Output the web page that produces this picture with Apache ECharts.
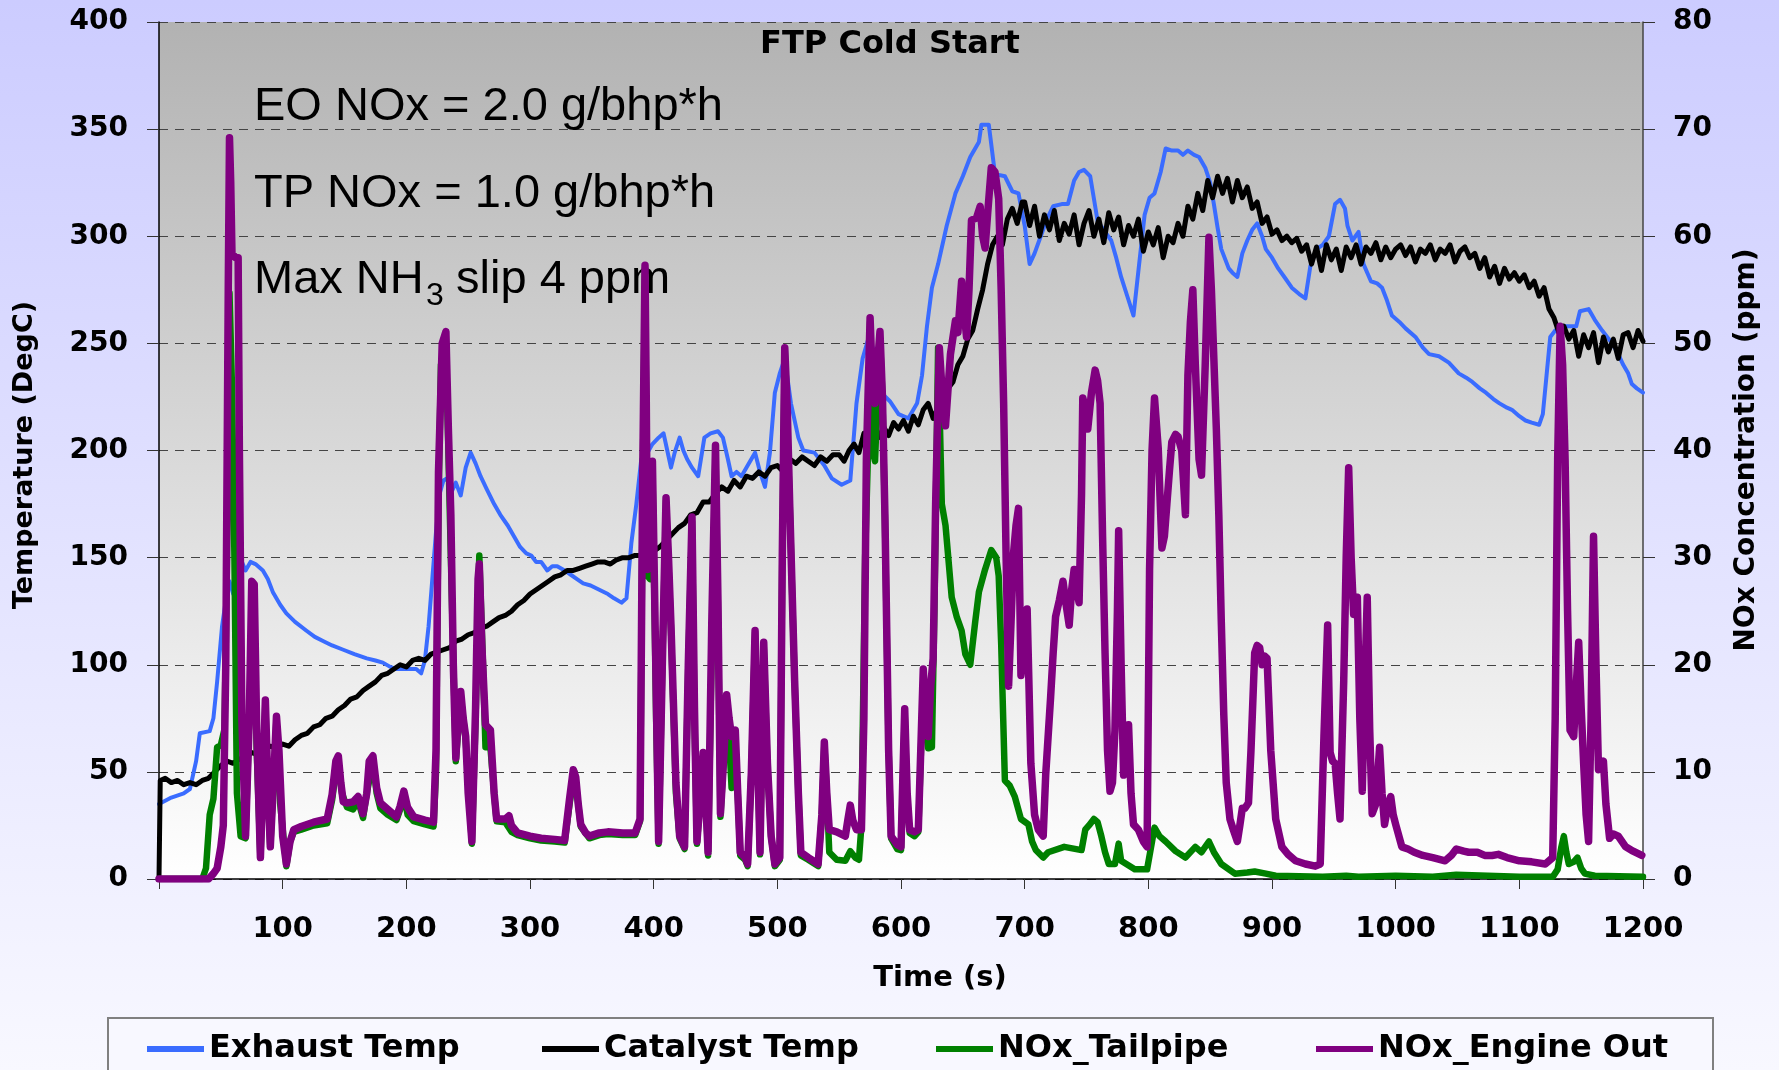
<!DOCTYPE html>
<html>
<head>
<meta charset="utf-8">
<script src="https://cdn.jsdelivr.net/npm/echarts@6/dist/echarts.min.js"></script>
<style>
html, body { margin: 0; padding: 0; }
#ftpChart { width: 1779px; height: 1070px; }
</style>
</head>
<body>
<div id="ftpChart"></div>
<script>
// [time s, value]
var exhaustTemp = [
    [0,35],[10,38],[20,40],[25,42],[30,55],[33,68],[41,69],[44,75],[47,92],[51,118],[54,130],[57,139],[60,133],
    [64,155],[67,148],[70,144],[74,148],[78,147],[84,144],[88,140],[92,134],[98,128],[103,124],[110,120],[119,116],
    [126,113],[133,111],[140,109],[149,107],[158,105],[168,103],[175,102],[181,101],[187,99],[192,98],[200,98],
    [208,98],[212,96],[215,102],[218,118],[221,140],[224,162],[227,180],[230,186],[233,187],[236,180],[240,185],
    [244,179],[248,192],[252,199],[256,194],[260,188],[265,182],[271,175],[276,170],[282,165],[287,160],[292,155],
    [297,152],[301,151],[305,148],[309,148],[314,144],[318,146],[322,146],[328,144],[333,142],[338,140],[343,138],
    [349,137],[356,135],[363,133],[368,131],[374,129],[378,131],[382,157],[386,175],[390,196],[395,199],[399,203],
    [404,206],[408,208],[411,200],[414,192],[417,199],[421,206],[424,200],[427,196],[431,192],[436,188],[441,206],
    [446,208],[452,209],[456,206],[460,196],[463,188],[467,190],[471,188],[476,193],[482,199],[486,190],[490,183],
    [494,199],[498,227],[502,236],[506,243],[511,222],[517,206],[521,200],[530,199],[538,193],[544,187],[552,184],
    [559,186],[564,222],[569,243],[574,253],[579,245],[584,227],[591,223],[598,217],[606,215],[613,222],[617,235],
    [621,258],[625,276],[630,287],[637,305],[644,320],[650,328],[656,337],[663,344],[665,352],[671,352],[676,329],
    [684,328],[690,321],[695,320],[700,305],[704,287],[708,292],[713,300],[718,308],[723,314],[730,315],[735,315],
    [740,326],[744,330],[748,331],[753,328],[759,307],[765,302],[770,298],[774,290],[778,281],[783,272],[788,263],
    [792,284],[797,310],[801,318],[805,320],[810,330],[814,341],[819,340],[824,340],[828,338],[832,340],[837,338],
    [841,337],[846,332],[850,325],[853,315],[856,304],[859,294],[865,285],[868,283],[872,281],[876,292],[880,298],
    [884,303],[888,306],[892,300],[895,294],[900,290],[905,285],[910,281],[916,276],[922,273],[927,271],[931,286],
    [936,294],[941,296],[946,300],[951,315],[955,317],[959,313],[961,305],[965,298],[970,302],[974,287],[980,279],
    [985,278],[989,276],[993,270],[997,263],[1003,260],[1008,257],[1016,253],[1022,248],[1027,245],[1035,244],
    [1043,241],[1051,236],[1057,234],[1062,232],[1068,229],[1073,227],[1079,224],[1084,222],[1090,220],[1094,219],
    [1100,216],[1105,214],[1110,213],[1116,212],[1119,217],[1122,235],[1125,253],[1129,256],[1135,258],[1146,258],
    [1149,265],[1156,266],[1161,261],[1167,256],[1175,250],[1180,245],[1184,240],[1188,236],[1191,231],[1195,229],
    [1200,227]
];

var catalystTemp = [
    [0,0],[1,46],[5,47],[10,45],[15,46],[20,44],[25,45],[30,44],[35,46],[40,47],[45,50],[50,53],[55,55],[60,54],
    [65,56],[70,57],[75,59],[80,58],[85,61],[90,62],[95,61],[100,63],[105,62],[110,65],[115,67],[120,68],[125,71],
    [130,72],[135,75],[140,76],[145,79],[150,81],[155,84],[160,85],[165,88],[170,90],[175,92],[180,95],[185,96],
    [190,98],[195,100],[200,99],[205,102],[210,103],[215,102],[220,105],[225,106],[230,107],[235,108],[240,111],
    [245,112],[250,114],[255,115],[260,117],[265,118],[270,120],[275,122],[280,123],[285,125],[290,128],[295,130],
    [300,133],[305,135],[310,137],[315,139],[320,141],[325,142],[330,144],[335,144],[340,145],[345,146],[350,147],
    [355,148],[360,148],[365,147],[370,149],[375,150],[380,150],[385,151],[390,151],[395,152],[400,153],[405,155],
    [410,158],[415,161],[420,164],[425,166],[430,170],[435,171],[440,176],[445,176],[450,180],[455,183],[460,181],
    [465,186],[470,183],[475,188],[480,187],[485,190],[490,188],[495,192],[500,193],[505,190],[510,196],[515,194],
    [520,197],[525,195],[530,193],[535,197],[540,195],[545,198],[550,198],[554,195],[558,200],[562,203],[566,199],
    [570,208],[574,205],[578,210],[582,206],[586,211],[590,207],[594,213],[598,210],[602,214],[606,209],[610,216],
    [614,212],[618,219],[622,222],[626,215],[630,220],[634,226],[638,229],[642,232],[646,240],[650,244],[654,252],
    [658,256],[662,266],[666,275],[670,287],[674,296],[678,300],[682,296],[686,308],[690,313],[694,306],[698,316],
    [700,316],[704,305],[708,314],[712,300],[716,310],[720,303],[724,312],[728,298],[732,306],[736,301],[740,310],
    [744,296],[748,306],[752,312],[756,300],[760,308],[764,297],[768,311],[772,303],[776,309],[780,296],[784,305],
    [788,300],[792,308],[796,293],[800,302],[804,296],[808,304],[812,290],[816,300],[820,297],[824,306],[828,300],
    [832,314],[836,308],[840,320],[844,312],[848,326],[852,318],[856,328],[860,320],[864,327],[868,316],[872,326],
    [876,318],[880,323],[884,313],[888,316],[892,306],[896,309],[900,301],[904,303],[908,298],[912,300],[916,297],
    [920,299],[924,293],[928,296],[932,287],[936,295],[940,284],[944,296],[948,289],[952,294],[956,284],[960,295],
    [964,290],[968,296],[972,287],[976,295],[980,292],[984,297],[988,289],[992,295],[996,290],[1000,294],[1004,296],
    [1008,291],[1012,295],[1016,288],[1020,294],[1024,292],[1028,296],[1032,289],[1036,294],[1040,292],[1044,296],
    [1048,288],[1052,293],[1056,295],[1060,290],[1064,292],[1068,285],[1072,290],[1076,281],[1080,286],[1084,278],
    [1088,285],[1092,280],[1096,283],[1100,279],[1104,282],[1108,276],[1112,279],[1116,272],[1120,276],[1124,266],
    [1128,262],[1132,255],[1136,258],[1140,252],[1144,256],[1148,244],[1152,254],[1156,248],[1160,255],[1164,241],
    [1168,253],[1172,246],[1176,252],[1180,243],[1184,254],[1188,255],[1192,248],[1196,256],[1200,251]
];

var noxTailpipe = [
    [0,0],[35,0],[38,1],[41,6],[44,7.5],[47,12.3],[50,12.5],[53,14],[55,30],[57,54.7],[59,46],[61,30],[63,8],[66,4],
    [70,3.8],[73,15],[76,27.5],[79,12],[82,2],[84,8],[86,16.5],[88,8],[90,3],[93,10],[95,15],[98,7],[103,1.2],
    [106,3.5],[109,4.4],[115,4.6],[125,5],[136,5.2],[140,7.4],[143,10],[145,11],[148,8],[152,6.7],[157,6.5],
    [161,7.3],[165,5.7],[168,8],[173,11],[176,8],[179,6.6],[185,6],[192,5.5],[195,6.5],[198,7.8],[201,6],[206,5.4],
    [215,5.1],[222,4.9],[224,10],[226,35],[228,48],[232,50],[234,40],[236,30],[240,11],[244,17],[248,13],[253,3.3],
    [256,15],[259,30.2],[262,20],[264,12.3],[268,12.3],[271,8],[273,5.4],[280,5.3],[285,4.4],[290,4.1],[300,3.8],
    [309,3.6],[320,3.5],[328,3.4],[332,7],[336,10],[339,7],[341,4.9],[348,3.8],[356,4.1],[363,4.2],[375,4.1],
    [385,4.1],[389,5.4],[391,35],[393,57],[395,28.3],[397,28],[399,38.5],[402,15],[404,3.3],[407,20],[410,35.3],
    [414,23.4],[418,8],[421,3.8],[425,2.8],[428,20],[431,33.4],[433,15],[435,3.3],[438,8],[440,11.5],[443,5],
    [444,2.2],[447,22],[450,40],[452,25],[454,5.8],[457,12],[459,17],[461,13],[463,8.5],[466,12.5],[468,8],[470,2.2],
    [474,1.8],[476,1.2],[479,10],[482,23],[484,12],[486,2.3],[489,21.8],[492,10.5],[495,4],[498,1.2],[502,1.8],
    [504,30],[506,49.5],[510,35],[514,18.3],[517,8],[519,2.2],[525,1.8],[533,1.2],[536,6],[538,12.6],[540,8],
    [542,2.5],[548,1.8],[555,1.7],[559,2.6],[563,2],[566,1.8],[568,5],[571,30],[573,38.5],[575,52],[577,40],[579,39],
    [581,45],[583,50.5],[585,45],[587,33.5],[590,12],[592,3.8],[597,2.8],[600,2.7],[603,15.4],[605,7],[607,4.3],
    [611,4],[614,4.4],[618,18.5],[622,12.2],[625,12.3],[627,25],[630,49.6],[633,35],[636,33],[641,26.3],[645,24.5],
    [649,23.2],[652,21],[656,20],[660,24],[663,26.8],[668,28.9],[673,30.7],[677,30],[679,28.3],[681,22],[684,9.2],
    [688,8.7],[692,7.7],[697,5.6],[703,5.1],[706,3.5],[709,2.7],[715,2],[719,2.5],[732,3],[746,2.7],[749,4.6],
    [752,5],[756,5.6],[759,5.3],[762,4],[765,2.5],[768,1.4],[773,1.4],[776,3.3],[778,1.7],[789,0.9],[799,0.9],
    [803,3.5],[805,4.8],[809,4],[814,3.5],[822,2.6],[830,2],[838,3],[843,2.5],[849,3.5],[853,2.5],[859,1.4],
    [870,0.5],[880,0.6],[886,0.7],[895,0.5],[903,0.3],[941,0.2],[960,0.3],[970,0.2],[1000,0.3],[1030,0.2],
    [1049,0.4],[1100,0.2],[1127,0.2],[1131,0.9],[1134,3],[1136,4],[1138,2.5],[1140,1.4],[1144,1.6],[1147,2],
    [1150,1],[1153,0.5],[1161,0.3],[1200,0.2]
];

var noxEngineOut = [
    [0,0],[40,0],[44,0.5],[47,1],[50,3],[52,5],[54,20],[56,55],[57,69.2],[58,65],[59,58.4],[62,58],[64,58],[65,40],
    [67,15],[70,4],[73,15],[75,27.8],[77,27.5],[79,14],[82,2],[84,9],[86,16.7],[88,9],[90,3],[93,10],[95,15.2],
    [97,12],[100,4],[103,1.4],[106,3.5],[109,4.6],[115,4.9],[125,5.3],[136,5.6],[140,7.9],[143,11],[145,11.5],
    [147,9],[149,7.2],[152,7.1],[157,7.2],[161,7.7],[165,6.1],[168,8],[170,11],[173,11.5],[176,8.5],[179,7.1],
    [185,6.5],[192,5.8],[195,6.8],[198,8.2],[201,6.7],[206,5.8],[215,5.5],[222,5.3],[224,12],[226,38],[229,50],
    [232,51.1],[234,42],[236,34],[238,20],[240,11.3],[242,15],[244,17.5],[246,15],[248,13.3],[250,8],[253,3.5],
    [256,16],[258,28],[259,29.4],[261,22],[264,14.4],[268,13.9],[271,8],[273,5.6],[280,5.6],[283,5.9],[285,5],
    [290,4.3],[300,4],[309,3.8],[320,3.7],[328,3.6],[332,7.5],[335,10.2],[337,9.5],[339,7],[341,5.1],[345,4.3],
    [348,4],[356,4.3],[363,4.4],[375,4.3],[385,4.3],[389,5.6],[391,36],[393,57.3],[394,45],[395,28.9],[397,30],
    [399,39],[401,25],[404,3.5],[407,20],[410,35.6],[412,30],[414,23.7],[418,9],[421,4],[425,3],[428,20],[431,33.8],
    [433,16],[435,3.5],[438,8],[440,11.8],[443,5],[444,2.5],[447,24],[450,40.5],[452,26],[454,6.1],[457,12],
    [459,17.2],[461,15],[463,13.3],[466,13.9],[468,8],[470,2.5],[474,2],[476,1.4],[479,10],[482,23.2],[484,12],
    [486,2.5],[489,22.1],[492,10.8],[495,4],[498,1.4],[502,2],[504,30],[506,49.6],[508,44],[510,35],[514,18.5],
    [517,8],[519,2.5],[525,2],[533,1.4],[536,6],[538,12.8],[540,8],[542,4.6],[548,4.4],[555,4],[557,5.5],[559,6.9],
    [561,5.5],[564,4.6],[568,4.6],[570,15],[572,39.2],[575,52.4],[577,46],[579,44.4],[581,48],[583,51.1],[585,45],
    [587,34],[590,12],[592,4],[597,3.2],[600,3],[603,15.9],[605,8],[607,4.6],[611,4.4],[614,4.6],[618,19.6],[620,15],
    [622,13.3],[624,18],[626,20.6],[628,35],[631,49.6],[633,46],[636,42.3],[640,49],[644,52.1],[646,51],[649,55.8],
    [651,53],[653,50.6],[655,55],[657,61.5],[661,61.7],[664,62.8],[666,60],[668,58.9],[670,62],[673,66.4],[676,66],
    [679,63.5],[681,55],[683,44.4],[685,30],[687,18],[689,24],[691,30.4],[693,33],[695,34.6],[697,19],[700,22],
    [702,25.2],[705,10.8],[708,6],[711,4.6],[715,4],[717,9.7],[721,17],[723,21],[725,24.5],[728,26],[731,27.8],
    [733,26],[736,23.7],[738,27],[740,28.9],[742,27],[744,25.8],[746,36],[747,44.9],[749,44],[751,42],[754,45.4],
    [757,47.5],[759,46.5],[761,44.4],[763,32],[765,21.1],[767,12],[769,8.2],[771,9],[773,13.9],[775,25],[776,32.5],
    [778,20],[780,9.7],[782,12],[784,14.4],[786,8],[788,5.1],[792,4.6],[796,3.5],[799,3],[801,28.9],[803,40],
    [805,44.9],[808,40.2],[811,30.9],[813,32],[815,35],[817,38],[819,40.8],[822,41.5],[824,41.3],[827,40],[830,34],
    [832,47],[834,52],[836,55],[838,48],[841,39.2],[843,37.7],[846,48],[849,59.9],[851,55],[853,48.5],[855,42],
    [857,34],[859,24],[861,15.4],[863,9],[866,5.6],[869,4.5],[872,3.5],[874,5],[876,6.6],[878,6.6],[881,7.1],
    [883,12],[886,21.1],[888,21.8],[890,21.6],[892,20],[894,20.8],[896,20.6],[899,12],[903,5.6],[908,3],[913,2.3],
    [919,1.7],[927,1.4],[935,1.2],[939,1.4],[942,13.3],[945,23.7],[947,11.8],[949,11],[951,10.8],[953,8],[955,5.6],
    [958,18.5],[960,30],[962,38.4],[964,30],[966,24.7],[969,26.3],[971,15],[973,8.2],[975,18],[977,26.3],[979,14],
    [981,6.1],[984,7],[987,12.3],[989,8],[991,5.1],[994,7],[996,7.7],[998,6],[1000,5.1],[1005,3],[1010,2.8],
    [1015,2.5],[1022,2.2],[1030,2],[1040,1.7],[1045,2.2],[1049,2.8],[1055,2.6],[1059,2.5],[1066,2.5],[1072,2.2],
    [1078,2.2],[1083,2.3],[1090,2],[1100,1.7],[1110,1.6],[1121,1.4],[1127,2],[1129,15],[1131,39.2],[1133,51.6],
    [1135,48],[1137,39.2],[1139,25],[1141,13.9],[1144,13.3],[1146,18],[1148,22.1],[1150,16],[1152,10.8],[1154,6],
    [1156,3.5],[1158,15],[1160,32],[1162,20],[1164,10.2],[1166,10.5],[1168,11],[1170,7],[1173,3.8],[1176,4.2],
    [1180,4],[1186,3],[1192,2.6],[1199,2.2]
];

var seriesNames = ['Exhaust Temp', 'Catalyst Temp', 'NOx_Tailpipe', 'NOx_Engine Out'];

var boldFont = 'DejaVu Sans';

var box = echarts.init(document.getElementById('ftpChart'));

function legendItem(name, left) {
    return {
        data: [name],
        left: left,
        top: 1033,
        padding: 0,
        icon: 'rect',
        itemWidth: 57,
        itemHeight: 6,
        textStyle: { fontFamily: boldFont, fontWeight: 'bold', fontSize: 32, color: '#000' }
    };
}

option = {
    animation: false,
    backgroundColor: new echarts.graphic.LinearGradient(0, 0, 0, 1, [
        { offset: 0, color: '#ccccff' },
        { offset: 1, color: '#f8f8ff' }
    ]),
    grid: {
        left: 159,
        right: 136,
        top: 22,
        bottom: 191,
        show: true,
        borderWidth: 0,
        outerBoundsMode: 'none',
        backgroundColor: new echarts.graphic.LinearGradient(0, 0, 0, 1, [
            { offset: 0, color: '#b2b2b2' },
            { offset: 1, color: '#ffffff' }
        ])
    },
    legend: [
        legendItem(seriesNames[0], 147),
        legendItem(seriesNames[1], 542),
        legendItem(seriesNames[2], 936),
        legendItem(seriesNames[3], 1316)
    ],
    graphic: [
        {
            type: 'rect', z: 0,
            shape: { x: 108, y: 1018, width: 1605, height: 70 },
            style: { fill: '#f8f8ff', stroke: '#808080', lineWidth: 2 }
        },
        {
            type: 'text', z: 1, x: 890, y: 45,
            style: { text: 'FTP Cold Start', fontFamily: boldFont, fontWeight: 'bold', fontSize: 32,
                     fill: '#000', align: 'center', verticalAlign: 'middle' }
        },
        {
            type: 'text', z: 1, x: 254, y: 107,
            style: { text: 'EO NOx = 2.0 g/bhp*h', fontFamily: 'Liberation Sans', fontSize: 47,
                     fill: '#000', verticalAlign: 'middle' }
        },
        {
            type: 'text', z: 1, x: 254, y: 194,
            style: { text: 'TP NOx = 1.0 g/bhp*h', fontFamily: 'Liberation Sans', fontSize: 47,
                     fill: '#000', verticalAlign: 'middle' }
        },
        {
            type: 'text', z: 1, x: 254, y: 280,
            style: { text: 'Max NH', fontFamily: 'Liberation Sans', fontSize: 47,
                     fill: '#000', verticalAlign: 'middle' }
        },
        {
            type: 'text', z: 1, x: 426, y: 296,
            style: { text: '3', fontFamily: 'Liberation Sans', fontSize: 32,
                     fill: '#000', verticalAlign: 'middle' }
        },
        {
            type: 'text', z: 1, x: 443, y: 280,
            style: { text: ' slip 4 ppm', fontFamily: 'Liberation Sans', fontSize: 47,
                     fill: '#000', verticalAlign: 'middle' }
        },
        {
            type: 'text', z: 1, x: 940, y: 978,
            style: { text: 'Time (s)', fontFamily: boldFont, fontWeight: 'bold', fontSize: 29,
                     fill: '#000', align: 'center', verticalAlign: 'middle' }
        },
        {
            type: 'text', z: 1, x: 25, y: 455, rotation: Math.PI / 2,
            style: { text: 'Temperature (DegC)', fontFamily: boldFont, fontWeight: 'bold', fontSize: 27,
                     fill: '#000', align: 'center', verticalAlign: 'middle' }
        },
        {
            type: 'text', z: 1, x: 1747, y: 450, rotation: Math.PI / 2,
            style: { text: 'NOx Concentration (ppm)', fontFamily: boldFont, fontWeight: 'bold', fontSize: 28,
                     fill: '#000', align: 'center', verticalAlign: 'middle' }
        }
    ],
    xAxis: {
        type: 'value',
        min: 0,
        max: 1200,
        interval: 100,
        axisLine: { lineStyle: { color: '#000', width: 1.5 } },
        axisTick: { show: true, length: 10, lineStyle: { color: '#333' } },
        splitLine: { show: false },
        axisLabel: {
            margin: 36,
            fontFamily: boldFont, fontWeight: 'bold', fontSize: 29, color: '#000',
            formatter: function (v) { return v === 0 ? '' : v; }
        }
    },
    yAxis: [
        {
            type: 'value',
            min: 0,
            max: 400,
            interval: 50,
            axisLine: { show: true, lineStyle: { color: '#000', width: 1.5 } },
            axisTick: { show: true, length: 12, lineStyle: { color: '#333' } },
            splitLine: { show: true, lineStyle: { color: '#444', width: 1.2, type: [9, 7] } },
            axisLabel: { margin: 31, fontFamily: boldFont, fontWeight: 'bold', fontSize: 28, color: '#000' }
        },
        {
            type: 'value',
            min: 0,
            max: 80,
            interval: 10,
            position: 'right',
            axisLine: { show: true, lineStyle: { color: '#444', width: 1.5 } },
            axisTick: { show: true, length: 12, lineStyle: { color: '#333' } },
            splitLine: { show: false },
            axisLabel: { margin: 30, fontFamily: boldFont, fontWeight: 'bold', fontSize: 28, color: '#000' }
        }
    ],
    series: [
        {
            name: seriesNames[0],
            type: 'line',
            yAxisIndex: 0,
            showSymbol: false,
            color: '#3a6cff',
            lineStyle: { width: 4, join: 'round', cap: 'round' },
            data: exhaustTemp
        },
        {
            name: seriesNames[1],
            type: 'line',
            yAxisIndex: 0,
            showSymbol: false,
            color: '#000000',
            lineStyle: { width: 5, join: 'round', cap: 'round' },
            data: catalystTemp
        },
        {
            name: seriesNames[2],
            type: 'line',
            yAxisIndex: 1,
            showSymbol: false,
            color: '#008000',
            lineStyle: { width: 6.5, join: 'round', cap: 'round' },
            data: noxTailpipe
        },
        {
            name: seriesNames[3],
            type: 'line',
            yAxisIndex: 1,
            showSymbol: false,
            color: '#800080',
            lineStyle: { width: 7.5, join: 'round', cap: 'round' },
            data: noxEngineOut
        }
    ]
};
box.setOption(option);
</script>
</body>
</html>
